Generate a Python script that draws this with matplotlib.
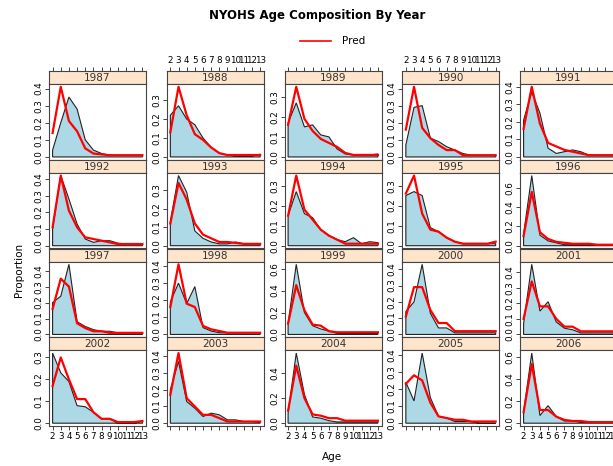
import matplotlib
matplotlib.use("Agg")
import matplotlib.pyplot as plt
import numpy as np

# ages and years
ages = list(range(2, 14))
years = [1987, 1988, 1989, 1990, 1991,
         1992, 1993, 1994, 1995, 1996,
         1997, 1998, 1999, 2000, 2001,
         2002, 2003, 2004, 2005, 2006]

# observed proportions at age (filled polygons)
obs = {
    1987: [0.04, 0.20, 0.35, 0.28, 0.10, 0.04, 0.02, 0.01, 0.01, 0.01, 0.01, 0.01],
    1988: [0.22, 0.27, 0.20, 0.17, 0.10, 0.05, 0.02, 0.01, 0.005, 0.005, 0.005, 0.015],
    1989: [0.17, 0.27, 0.15, 0.16, 0.11, 0.10, 0.04, 0.015, 0.01, 0.01, 0.01, 0.015],
    1990: [0.07, 0.29, 0.30, 0.11, 0.09, 0.06, 0.04, 0.02, 0.01, 0.01, 0.01, 0.01],
    1991: [0.21, 0.37, 0.25, 0.05, 0.02, 0.03, 0.04, 0.03, 0.01, 0.01, 0.01, 0.01],
    1992: [0.10, 0.42, 0.28, 0.13, 0.04, 0.02, 0.03, 0.03, 0.015, 0.01, 0.01, 0.01],
    1993: [0.13, 0.38, 0.29, 0.08, 0.04, 0.02, 0.01, 0.01, 0.02, 0.01, 0.01, 0.01],
    1994: [0.15, 0.27, 0.16, 0.14, 0.08, 0.05, 0.03, 0.02, 0.04, 0.01, 0.02, 0.015],
    1995: [0.25, 0.27, 0.25, 0.09, 0.07, 0.04, 0.02, 0.01, 0.01, 0.01, 0.01, 0.01],
    1996: [0.12, 0.73, 0.11, 0.05, 0.03, 0.01, 0.01, 0.01, 0.01, 0.01, 0.01, 0.01],
    1997: [0.20, 0.24, 0.44, 0.08, 0.05, 0.03, 0.02, 0.02, 0.01, 0.01, 0.01, 0.01],
    1998: [0.19, 0.30, 0.18, 0.28, 0.04, 0.02, 0.01, 0.01, 0.01, 0.01, 0.01, 0.01],
    1999: [0.10, 0.64, 0.20, 0.08, 0.05, 0.03, 0.01, 0.01, 0.01, 0.01, 0.01, 0.01],
    2000: [0.14, 0.20, 0.43, 0.13, 0.04, 0.04, 0.01, 0.01, 0.01, 0.01, 0.01, 0.01],
    2001: [0.07, 0.45, 0.15, 0.21, 0.08, 0.04, 0.03, 0.01, 0.01, 0.01, 0.01, 0.01],
    2002: [0.32, 0.23, 0.19, 0.08, 0.075, 0.05, 0.02, 0.02, 0.0, 0.0, 0.0, 0.01],
    2003: [0.20, 0.37, 0.13, 0.09, 0.04, 0.06, 0.05, 0.02, 0.02, 0.01, 0.01, 0.005],
    2004: [0.08, 0.56, 0.23, 0.05, 0.04, 0.02, 0.01, 0.01, 0.01, 0.01, 0.01, 0.01],
    2005: [0.24, 0.13, 0.41, 0.15, 0.04, 0.03, 0.01, 0.01, 0.01, 0.0, 0.0, 0.0],
    2006: [0.10, 0.64, 0.07, 0.16, 0.06, 0.02, 0.02, 0.01, 0.01, 0.01, 0.01, 0.01],
}

# predicted proportions at age (red lines)
pred = {
    1987: [0.14, 0.41, 0.21, 0.15, 0.05, 0.02, 0.015, 0.01, 0.01, 0.01, 0.01, 0.01],
    1988: [0.13, 0.37, 0.22, 0.12, 0.09, 0.05, 0.02, 0.01, 0.01, 0.01, 0.01, 0.01],
    1989: [0.16, 0.35, 0.19, 0.13, 0.09, 0.07, 0.05, 0.02, 0.01, 0.01, 0.01, 0.01],
    1990: [0.16, 0.41, 0.17, 0.11, 0.07, 0.04, 0.04, 0.01, 0.01, 0.01, 0.01, 0.01],
    1991: [0.16, 0.40, 0.19, 0.08, 0.06, 0.04, 0.03, 0.02, 0.01, 0.01, 0.01, 0.01],
    1992: [0.11, 0.42, 0.21, 0.11, 0.05, 0.04, 0.03, 0.02, 0.01, 0.01, 0.01, 0.01],
    1993: [0.12, 0.34, 0.25, 0.12, 0.06, 0.04, 0.02, 0.02, 0.015, 0.01, 0.01, 0.01],
    1994: [0.15, 0.35, 0.18, 0.13, 0.08, 0.05, 0.03, 0.01, 0.01, 0.01, 0.01, 0.01],
    1995: [0.26, 0.35, 0.16, 0.08, 0.07, 0.04, 0.02, 0.01, 0.01, 0.01, 0.01, 0.02],
    1996: [0.10, 0.56, 0.14, 0.07, 0.04, 0.03, 0.02, 0.02, 0.02, 0.01, 0.01, 0.01],
    1997: [0.16, 0.35, 0.30, 0.07, 0.04, 0.02, 0.02, 0.01, 0.01, 0.01, 0.01, 0.01],
    1998: [0.16, 0.41, 0.18, 0.16, 0.05, 0.03, 0.02, 0.01, 0.01, 0.01, 0.01, 0.01],
    1999: [0.10, 0.45, 0.22, 0.09, 0.08, 0.03, 0.02, 0.02, 0.02, 0.02, 0.02, 0.02],
    2000: [0.11, 0.29, 0.29, 0.15, 0.07, 0.07, 0.02, 0.02, 0.02, 0.02, 0.02, 0.02],
    2001: [0.10, 0.34, 0.18, 0.18, 0.10, 0.05, 0.05, 0.02, 0.02, 0.02, 0.02, 0.02],
    2002: [0.17, 0.30, 0.20, 0.11, 0.11, 0.05, 0.02, 0.02, 0.005, 0.005, 0.005, 0.01],
    2003: [0.17, 0.42, 0.15, 0.10, 0.05, 0.05, 0.03, 0.01, 0.01, 0.01, 0.01, 0.01],
    2004: [0.10, 0.46, 0.20, 0.07, 0.06, 0.04, 0.04, 0.02, 0.02, 0.02, 0.02, 0.02],
    2005: [0.23, 0.28, 0.25, 0.12, 0.04, 0.03, 0.02, 0.02, 0.01, 0.01, 0.01, 0.01],
    2006: [0.10, 0.54, 0.12, 0.12, 0.06, 0.03, 0.02, 0.02, 0.01, 0.01, 0.01, 0.01],
}

W, H = 613, 466
fig = plt.figure(figsize=(W / 100, H / 100), dpi=100)

ncol, nrow = 5, 4
x0, dx, pw = 49, 117.75, 97
y0, dy, sh = 71, 88.75, 13
ph = dy - sh
xlo, xhi = 2 - 0.44, 13 + 0.44
edge = "#444444"
tick_fs = 6.3


def fx(px):
    return px / W


def fy(py):
    return 1 - py / H


for i, yr in enumerate(years):
    r, c = divmod(i, ncol)
    left = x0 + c * dx
    top = y0 + r * dy
    # strip
    sax = fig.add_axes([fx(left), fy(top + sh), pw / W, sh / H])
    sax.set_facecolor("#FFE5CC")
    sax.set_xlim(xlo, xhi)
    sax.set_ylim(0, 1)
    sax.text(0.5, 0.45, str(yr), transform=sax.transAxes, ha="center",
             va="center", fontsize=7.5, color="#333333")
    sax.set_yticks([])
    for s in sax.spines.values():
        s.set_color(edge)
        s.set_linewidth(0.8)
    if r == 0:
        sax.xaxis.tick_top()
        sax.set_xticks(ages)
        sax.tick_params(axis="x", direction="out", length=3, width=0.7,
                        color=edge, labelsize=tick_fs, pad=1)
        if c % 2 == 1:
            sax.set_xticklabels([str(a) for a in ages])
        else:
            sax.set_xticklabels([])
    else:
        sax.set_xticks([])

    # panel
    ax = fig.add_axes([fx(left), fy(top + sh + ph), pw / W, ph / H])
    o = obs[yr]
    p = pred[yr]
    ax.fill([ages[0]] + ages + [ages[-1]], [0] + o + [0],
            facecolor="lightblue", edgecolor="#222222", linewidth=0.8)
    ax.plot(ages, p, color="red", linewidth=1.6)
    top_val = max(max(o), max(p))
    ax.set_xlim(xlo, xhi)
    ax.set_ylim(-0.04 * top_val, top_val * 1.04)
    step = 0.1 if top_val < 0.5 else 0.2
    yt = np.arange(0, top_val + 1e-9, step)
    ax.set_yticks(yt)
    ax.set_yticklabels(["%.1f" % v for v in yt], rotation=90, va="center")
    ax.tick_params(axis="y", direction="out", length=3, width=0.7,
                   color=edge, labelsize=tick_fs, pad=1)
    for s in ax.spines.values():
        s.set_color(edge)
        s.set_linewidth(0.8)
    if r == nrow - 1:
        ax.set_xticks(ages)
        ax.tick_params(axis="x", direction="out", length=3, width=0.7,
                       color=edge, labelsize=tick_fs, pad=1)
        if c % 2 == 0:
            ax.set_xticklabels([str(a) for a in ages])
        else:
            ax.set_xticklabels([])
    else:
        ax.set_xticks([])

fig.text(fx(317), fy(15), "NYOHS Age Composition By Year", ha="center",
         va="center", fontsize=8.5, fontweight="bold")
fig.add_artist(plt.Line2D([fx(300), fx(331)], [fy(41), fy(41)],
                          color="red", linewidth=1.2))
fig.text(fx(342), fy(41), "Pred", ha="left", va="center", fontsize=7.5)
fig.text(fx(19), fy(270), "Proportion", rotation=90, ha="center",
         va="center", fontsize=7.5)
fig.text(fx(332), fy(457), "Age", ha="center", va="center", fontsize=7.5)

fig.savefig("out.png", dpi=100)
